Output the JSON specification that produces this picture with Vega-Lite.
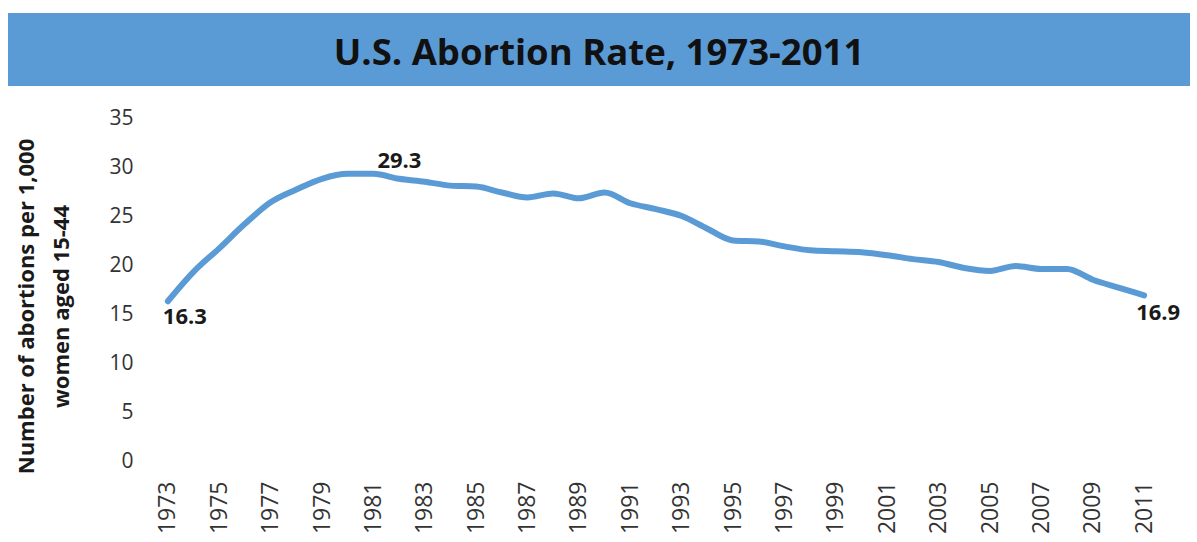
{
  "$schema": "https://vega.github.io/schema/vega-lite/v6.json",
  "background": "white",
  "padding": {"left": 8, "top": 13, "right": 7, "bottom": 0},
  "config": {"view": {"stroke": null}, "font": "Open Sans"},
  "columns": 1,
  "spacing": 21,
  "concat": [
    {
      "width": 1182,
      "height": 73,
      "view": {"fill": "#5B9BD5", "stroke": null},
      "data": {"values": [{"t": "U.S. Abortion Rate, 1973-2011"}]},
      "mark": {"type": "text", "fontSize": 36.5, "fontWeight": "bold", "color": "#111111", "font": "Open Sans", "dy": 4},
      "encoding": {"text": {"field": "t"}}
    },
    {
      "width": 1182,
      "height": 343,
      "data": {"values": [
        {"year": 1973, "rate": 16.3},
        {"year": 1974, "rate": 19.3},
        {"year": 1975, "rate": 21.7},
        {"year": 1976, "rate": 24.2},
        {"year": 1977, "rate": 26.4},
        {"year": 1978, "rate": 27.7},
        {"year": 1979, "rate": 28.8},
        {"year": 1980, "rate": 29.3},
        {"year": 1981, "rate": 29.3},
        {"year": 1982, "rate": 28.8},
        {"year": 1983, "rate": 28.5},
        {"year": 1984, "rate": 28.1},
        {"year": 1985, "rate": 28.0},
        {"year": 1986, "rate": 27.4},
        {"year": 1987, "rate": 26.9},
        {"year": 1988, "rate": 27.3},
        {"year": 1989, "rate": 26.8},
        {"year": 1990, "rate": 27.4},
        {"year": 1991, "rate": 26.3},
        {"year": 1992, "rate": 25.7},
        {"year": 1993, "rate": 25.0},
        {"year": 1994, "rate": 23.7},
        {"year": 1995, "rate": 22.5},
        {"year": 1996, "rate": 22.4},
        {"year": 1997, "rate": 21.9},
        {"year": 1998, "rate": 21.5},
        {"year": 1999, "rate": 21.4},
        {"year": 2000, "rate": 21.3},
        {"year": 2001, "rate": 21.0},
        {"year": 2002, "rate": 20.6},
        {"year": 2003, "rate": 20.3},
        {"year": 2004, "rate": 19.7},
        {"year": 2005, "rate": 19.4},
        {"year": 2006, "rate": 19.9},
        {"year": 2007, "rate": 19.6},
        {"year": 2008, "rate": 19.6},
        {"year": 2009, "rate": 18.5},
        {"year": 2010, "rate": 17.7},
        {"year": 2011, "rate": 16.9}
      ]},
      "encoding": {
        "x": {
          "field": "year", "type": "quantitative",
          "scale": {"domain": [1972.5, 2011.5], "range": [147, 1149], "nice": false, "zero": false},
          "axis": {
            "title": null,
            "values": [1973,1975,1977,1979,1981,1983,1985,1987,1989,1991,1993,1995,1997,1999,2001,2003,2005,2007,2009,2011],
            "format": "d",
            "labelAngle": -90, "labelFontSize": 23, "labelColor": "#333333", "labelPadding": 20,
            "ticks": false, "domain": false, "grid": false
          }
        },
        "y": {
          "field": "rate", "type": "quantitative",
          "scale": {"domain": [0, 35], "nice": false}
        }
      },
      "layer": [
        {
          "data": {"values": [{"g": 0}, {"g": 5}, {"g": 10}, {"g": 15}, {"g": 20}, {"g": 25}, {"g": 30}, {"g": 35}]},
          "mark": {"type": "rule", "color": "#d9d9d9", "strokeWidth": 1.2},
          "encoding": {
            "y": {
              "field": "g", "type": "quantitative",
              "axis": {
                "title": ["Number of abortions per 1,000", "women aged 15-44"],
                "titleFontSize": 22, "titleFontWeight": "bold", "titleColor": "#1a1a1a",
                "titleLineHeight": 35, "titlePadding": 35, "titleY": 188,
                "values": [0,5,10,15,20,25,30,35],
                "labelFontSize": 21, "labelColor": "#333333", "labelPadding": 22,
                "ticks": false, "domain": false, "grid": false, "offset": -147
              }
            },
            "x": {"datum": 1972.5},
            "x2": {"datum": 2011.5}
          }
        },
        {
          "mark": {"type": "line", "color": "#5B9BD5", "strokeWidth": 6, "interpolate": "monotone", "strokeCap": "round", "strokeJoin": "round"}
        },
        {
          "transform": [{"filter": "datum.year == 1973"}],
          "mark": {"type": "text", "fontSize": 22, "fontWeight": "bold", "color": "#1a1a1a", "align": "left", "baseline": "top", "dx": -5, "dy": 6},
          "encoding": {"text": {"field": "rate", "type": "quantitative", "format": ".1f"}}
        },
        {
          "transform": [{"filter": "datum.year == 1981"}],
          "mark": {"type": "text", "fontSize": 22, "fontWeight": "bold", "color": "#1a1a1a", "align": "left", "baseline": "bottom", "dx": 4, "dy": -1},
          "encoding": {"text": {"field": "rate", "type": "quantitative", "format": ".1f"}}
        },
        {
          "transform": [{"filter": "datum.year == 2011"}],
          "mark": {"type": "text", "fontSize": 22, "fontWeight": "bold", "color": "#1a1a1a", "align": "left", "baseline": "top", "dx": -8, "dy": 8},
          "encoding": {"text": {"field": "rate", "type": "quantitative", "format": ".1f"}}
        }
      ]
    }
  ]
}
